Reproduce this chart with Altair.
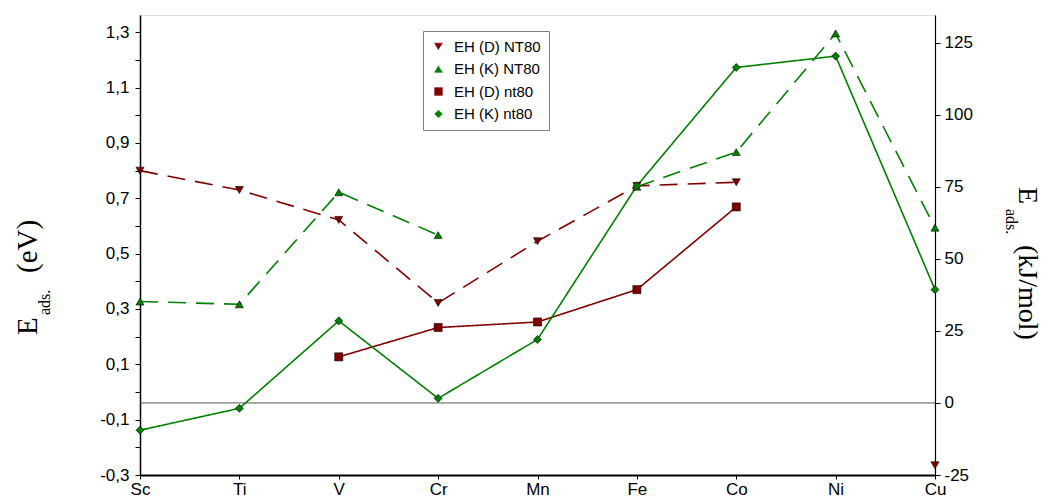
import altair as alt
import pandas as pd

elements = ["Sc", "Ti", "V", "Cr", "Mn", "Fe", "Co", "Ni", "Cu"]
series_names = ["EH (D) NT80", "EH (K) NT80", "EH (D) nt80", "EH (K) nt80"]
d_NT80 = [0.80, 0.73, 0.622, 0.322, 0.545, 0.745, 0.758, None, -0.265]
k_NT80 = [0.327, 0.317, 0.722, 0.567, None, 0.742, 0.867, 1.296, 0.594]
d_nt80 = [None, None, 0.127, 0.233, 0.253, 0.370, 0.669, None, None]
k_nt80 = [-0.138, -0.059, 0.257, -0.023, 0.190, 0.745, 1.173, 1.214, 0.370]
colors = ["#800000", "#008000", "#800000", "#008000"]
shapes = ["triangle-down", "triangle-up", "square", "diamond"]
dashes = [[18, 10], [18, 10], [1, 0], [1, 0]]

left_ticks = [round(-0.3 + 0.1 * i, 1) for i in range(17)]
right_ticks = [-25, 0, 25, 50, 75, 100, 125]

rows = []
for name, vals in zip(series_names, [d_NT80, k_NT80, d_nt80, k_nt80]):
    for el, v in zip(elements, vals):
        rows.append({"element": el, "series": name, "value": v})
df = pd.DataFrame(rows)

W, H = 795, 460
FONT = "Liberation Sans"
SERIF = "Liberation Serif"
LS = 17

x_enc = alt.X(
    "element:N", sort=elements,
    scale=alt.Scale(type="point", padding=0),
    axis=alt.Axis(title=None, labelAngle=0, labelFont=FONT, labelFontSize=LS,
                  labelColor="black", tickColor="black", tickSize=4,
                  domainColor="black", domainWidth=2, labelPadding=2,
                  grid=False),
)
y_scale = alt.Scale(domain=[-0.3, 1.3626], nice=False, zero=False)
y_enc = alt.Y(
    "value:Q", scale=y_scale,
    axis=alt.Axis(
        orient="left", title=None, values=left_ticks,
        labelExpr="abs(round(datum.value*10))%2==1 ? (datum.value<0?'-':'') + replace(format(abs(datum.value),'.1f'),'.',',') : ''",
        labelFont=FONT, labelFontSize=LS, labelColor="black",
        tickColor="black", tickSize=5, domainColor="black", domainWidth=1.5,
        labelPadding=6, grid=False, labelFlush=False, labelOverlap=False),
)
color_scale = alt.Scale(domain=series_names, range=colors)
leg = alt.Legend(
    title=None, orient="none", legendX=283, legendY=16, direction="vertical",
    fillColor="white", strokeColor="#808080", padding=8, cornerRadius=0,
    labelFont=FONT, labelFontSize=15, labelColor="black", symbolSize=60,
    symbolStrokeColor="black", symbolStrokeWidth=0.6, rowPadding=6.5, labelOffset=8,
    symbolType="square",
)

base = alt.Chart(df)
lines = base.mark_line(strokeWidth=1.6).encode(
    x=x_enc, y=y_enc,
    color=alt.Color("series:N", scale=color_scale, legend=leg),
    strokeDash=alt.StrokeDash("series:N", scale=alt.Scale(domain=series_names, range=dashes), legend=None),
)
points = base.mark_point(filled=True, stroke="black", strokeWidth=0.6, opacity=1, size=65).encode(
    x=x_enc, y=y_enc,
    color=alt.Color("series:N", scale=color_scale, legend=leg),
    shape=alt.Shape("series:N", scale=alt.Scale(domain=series_names, range=shapes), legend=leg),
)
left_group = alt.layer(lines, points)

rule_df = pd.DataFrame({"kj": [0]})
zero_rule = alt.Chart(rule_df).mark_rule(color="#555555", strokeWidth=1).encode(
    y=alt.Y("kj:Q", scale=alt.Scale(domain=[-25, 134.6], nice=False, zero=False),
            axis=alt.Axis(orient="right", title=None, values=right_ticks,
                          labelExpr="(datum.value<0?'-':'') + format(abs(datum.value),'d')",
                          labelFont=FONT, labelFontSize=LS, labelColor="black",
                          tickColor="black", tickSize=5, domainColor="black",
                          domainWidth=1.2, labelPadding=4, grid=False,
                          labelFlush=False, labelOverlap=False)),
)


def txt(s, x, y, size, angle):
    return alt.Chart(pd.DataFrame({"t": [s]})).mark_text(
        font=SERIF, fontSize=size, angle=angle, align="left",
        baseline="alphabetic", color="black",
    ).encode(text="t:N", x=alt.value(x), y=alt.value(y))


titles = [
    txt("E", -103, 320, 29, 270),
    txt("ads.", -90, 300, 16, 270),
    txt("(eV)", -103, 258, 29, 270),
    txt("E", 879, 172, 28, 90),
    txt("ads.", 866, 194, 16, 90),
    txt("(kJ/mol)", 879, 230, 28, 90),
]

chart = alt.layer(zero_rule, left_group, *titles).resolve_scale(y="independent").properties(
    width=W, height=H,
    autosize=alt.AutoSizeParams(type="none"),
    padding={"left": 132, "top": 7, "right": 109, "bottom": 27},
).configure_view(stroke="#808080", strokeWidth=1.5).configure(background="white")

chart.save("out.html", embed_options={"renderer": "svg", "actions": False})
